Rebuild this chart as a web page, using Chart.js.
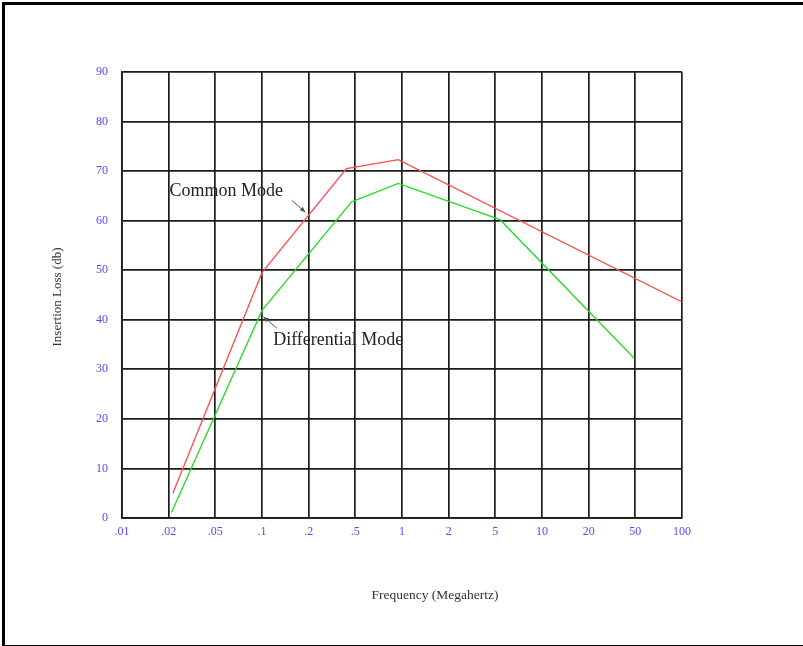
<!DOCTYPE html>
<html>
<head>
<meta charset="utf-8">
<script src="https://cdn.jsdelivr.net/npm/chart.js@4.4.1/dist/chart.umd.min.js"></script>
<style>
    html, body { margin: 0; padding: 0; background: #fff; overflow: hidden; }
    #wrap { position: relative; width: 803px; height: 646px; }
    #frame {
        position: absolute; left: 2px; top: 2px; width: 801px; height: 640px;
        border-left: 3px solid #000; border-top: 3px solid #000; border-bottom: 2px solid #000;
        pointer-events: none;
    }
</style>
</head>
<body>
<div id="wrap">
    <canvas id="loss-chart" width="803" height="646"></canvas>
    <div id="frame"></div>
</div>
<script>
// tick labels (equally spaced frequency grid, Megahertz)
const freqLabels = [".01", ".02", ".05", ".1", ".2", ".5", "1", "2", "5", "10", "20", "50", "100"];
const lossTicks = [0, 10, 20, 30, 40, 50, 60, 70, 80, 90];

// position on the frequency grid (0 = .01 ... 12 = 100) and insertion loss (db)
const commonX = [1.09, 3, 4.81, 5.92, 12];
const commonY = [5, 49.5, 70.5, 72.3, 43.6];
const diffX = [1.06, 3, 4.92, 5.92, 8.1, 10.98];
const diffY = [1.1, 41.9, 63.8, 67.5, 60.2, 32.2];

const SERIF = "'Liberation Serif', 'DejaVu Serif', serif";

function pairs(xs, ys) {
    return xs.map((x, i) => ({x, y: ys[i]}));
}

function arrow(ctx, x1, y1, x2, y2) {
    const a = Math.atan2(y2 - y1, x2 - x1);
    ctx.beginPath();
    ctx.moveTo(x1, y1);
    ctx.lineTo(x2, y2);
    ctx.stroke();
    ctx.beginPath();
    ctx.moveTo(x2, y2);
    ctx.lineTo(x2 - 6 * Math.cos(a - 0.4), y2 - 6 * Math.sin(a - 0.4));
    ctx.lineTo(x2 - 6 * Math.cos(a + 0.4), y2 - 6 * Math.sin(a + 0.4));
    ctx.closePath();
    ctx.fill();
}

// labels, arrows and axis titles
const notes = {
    id: 'notes',
    afterDraw(chart) {
        const ctx = chart.ctx;
        const xs = chart.scales.x, ys = chart.scales.y;
        ctx.save();
        ctx.fillStyle = '#222';
        ctx.font = "18px " + SERIF;
        ctx.textBaseline = 'middle';
        ctx.textAlign = 'left';
        ctx.fillText("Common Mode", xs.getPixelForValue(1.02), ys.getPixelForValue(66));
        ctx.fillText("Differential Mode", xs.getPixelForValue(3.24), ys.getPixelForValue(35.8));

        ctx.strokeStyle = '#555';
        ctx.fillStyle = '#555';
        ctx.lineWidth = 1;
        arrow(ctx, xs.getPixelForValue(3.64), ys.getPixelForValue(64.1),
                   xs.getPixelForValue(3.93), ys.getPixelForValue(61.7));
        arrow(ctx, xs.getPixelForValue(3.32), ys.getPixelForValue(38.3),
                   xs.getPixelForValue(3.03), ys.getPixelForValue(40.6));

        ctx.fillStyle = '#333';
        ctx.font = "13.5px " + SERIF;
        ctx.textAlign = 'center';
        ctx.fillText("Frequency (Megahertz)", 435, 595);
        ctx.translate(58, 297);
        ctx.rotate(-Math.PI / 2);
        ctx.font = "13px " + SERIF;
        ctx.fillText("Insertion Loss (db)", 0, 0);
        ctx.restore();
    }
};

const gridStyle = { color: '#1c1c1c', lineWidth: 1.7, drawTicks: false };

new Chart("loss-chart", {
    type: "line",
    data: {
        datasets: [
            { label: 'Common Mode', data: pairs(commonX, commonY), borderColor: '#ff4c4c',
              borderWidth: 1.3, pointRadius: 0, fill: false, tension: 0 },
            { label: 'Differential Mode', data: pairs(diffX, diffY), borderColor: '#22dd22',
              borderWidth: 1.3, pointRadius: 0, fill: false, tension: 0 }
        ]
    },
    options: {
        responsive: false, animation: false,
        layout: { padding: { left: 0, right: 121, top: 72, bottom: 88 } },
        plugins: { legend: { display: false }, tooltip: { enabled: false } },
        scales: {
            x: {
                type: 'linear', min: 0, max: freqLabels.length - 1,
                afterFit: (scale) => { scale.height = 40; },
                afterBuildTicks: (scale) => { scale.ticks = freqLabels.map((_, i) => ({value: i})); },
                grid: gridStyle,
                border: { color: '#1c1c1c', width: 1.7 },
                ticks: {
                    color: '#4d4dff', padding: 7, maxRotation: 0, autoSkip: false,
                    font: { family: SERIF, size: 12 },
                    callback: (v) => freqLabels[v]
                }
            },
            y: {
                min: 0, max: 90,
                afterFit: (scale) => { scale.width = 122; },
                afterBuildTicks: (scale) => { scale.ticks = lossTicks.map((v) => ({value: v})); },
                grid: gridStyle,
                border: { color: '#1c1c1c', width: 1.7 },
                ticks: {
                    color: '#4d4dff', padding: 14,
                    font: { family: SERIF, size: 12 }
                }
            }
        }
    },
    plugins: [notes]
});
</script>
</body>
</html>
